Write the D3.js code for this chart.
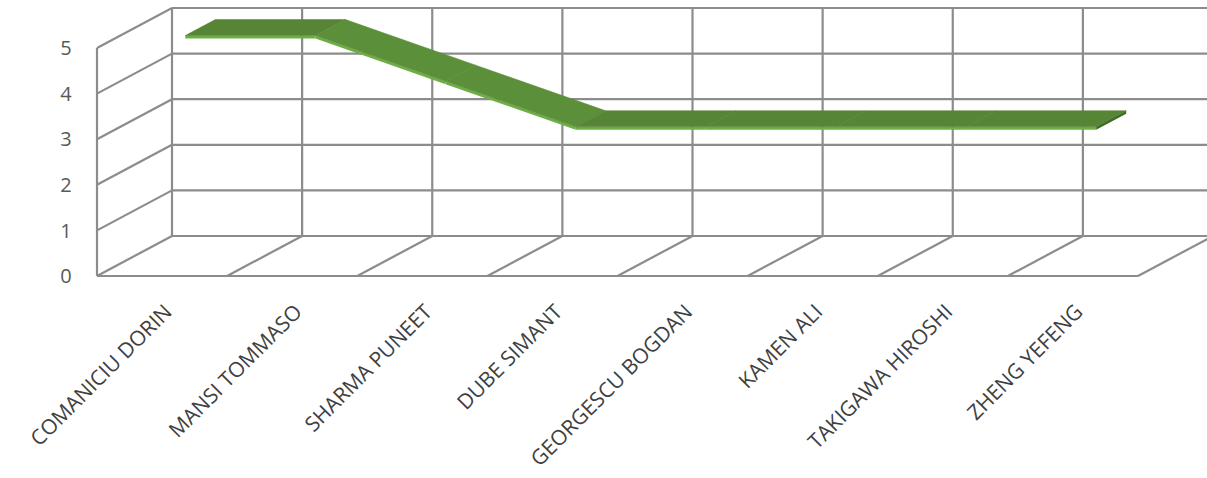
<!DOCTYPE html>
<html>
<head>
<meta charset="utf-8">
<script src="https://cdn.jsdelivr.net/npm/d3@7"></script>
<style>
  body { margin: 0; background: #fff; }
  svg { display: block; }
</style>
</head>
<body>
<svg id="chart" width="1207" height="478"></svg>
<script>
// chart data
var categories = ['COMANICIU DORIN', 'MANSI TOMMASO', 'SHARMA PUNEET', 'DUBE SIMANT',
                  'GEORGESCU BOGDAN', 'KAMEN ALI', 'TAKIGAWA HIROSHI', 'ZHENG YEFENG']
var values = [5, 5, 4, 3, 3, 3, 3, 3]
var yTicks = [0, 1, 2, 3, 4, 5]

var svg = d3.select('#chart')

// front plane scales, depth is added as an oblique offset
var xScale = d3.scaleLinear().domain([0, categories.length]).range([97, 1138])
var yScale = d3.scaleLinear().domain([0, 5]).range([276, 48])
var depth = { dx: 75, dy: -40 }

function proj(c, v, z) {
    return [xScale(c) + depth.dx * z, yScale(v) + depth.dy * z]
}

var gridColor = '#8c8c8c'
var g = svg.append('g')

function line3(a, b) {
    var p = proj(a[0], a[1], a[2]), q = proj(b[0], b[1], b[2])
    g.append('line')
     .attr('x1', p[0]).attr('y1', p[1])
     .attr('x2', q[0]).attr('y2', q[1])
     .attr('stroke', gridColor)
     .attr('stroke-width', 2.2)
}

var nCat = categories.length

// back wall: horizontal gridlines and vertical category lines
yTicks.forEach(function (t) {
    line3([0, t, 1], [nCat, t, 1])
})
d3.range(nCat + 1).forEach(function (i) {
    line3([i, 0, 1], [i, 5, 1])
})
// left side wall
yTicks.forEach(function (t) {
    line3([0, t, 0], [0, t, 1])
})
line3([0, 0, 0], [0, 5, 0])
// floor
d3.range(1, nCat + 1).forEach(function (i) {
    line3([i, 0, 0], [i, 0, 1])
})
line3([0, 0, 0], [nCat, 0, 0])

// y tick labels
g.selectAll('.ytick')
 .data(yTicks)
 .enter()
 .append('text')
 .attr('x', 66)
 .attr('y', function (d) { return yScale(d) })
 .attr('dy', '0.36em')
 .attr('text-anchor', 'middle')
 .attr('font-family', 'Open Sans, sans-serif')
 .attr('font-size', 20)
 .attr('fill', '#595959')
 .text(function (d) { return d })

// category labels, rotated
g.selectAll('.xlab')
 .data(categories)
 .enter()
 .append('text')
 .attr('transform', function (d, i) {
     var x = xScale(i + 0.5) + 6
     return 'translate(' + x + ',' + 308 + ') rotate(-45)'
 })
 .attr('text-anchor', 'end')
 .attr('dy', '0.35em')
 .attr('font-family', 'Open Sans, sans-serif')
 .attr('font-size', 21)
 .attr('fill', '#404040')
 .text(function (d) { return d })

// 3D ribbon line
var zf = 0.31, zb = 0.71, thick = 3
var ribbon = svg.append('g')
d3.range(nCat - 1).forEach(function (i) {
    var a = i + 0.5, b = i + 1.5
    var v0 = values[i], v1 = values[i + 1]
    var p1 = proj(a, v0, zf), p2 = proj(b, v1, zf), p3 = proj(b, v1, zb), p4 = proj(a, v0, zb)
    var flat = v0 === v1
    // front edge (thickness)
    ribbon.append('path')
          .attr('d', 'M' + p1 + 'L' + p2 + 'L' + [p2[0], p2[1] + thick] + 'L' + [p1[0], p1[1] + thick] + 'Z')
          .attr('fill', '#6fae45')
    ribbon.append('path')
          .attr('d', 'M' + p1 + 'L' + p2 + 'L' + p3 + 'L' + p4 + 'Z')
          .attr('fill', flat ? '#578536' : '#5c8f3a')
          .attr('stroke', flat ? '#578536' : '#5c8f3a')
          .attr('stroke-width', 0.6)
})
// right end cap
var e1 = proj(nCat - 0.5, values[nCat - 1], zf), e2 = proj(nCat - 0.5, values[nCat - 1], zb)
ribbon.append('path')
      .attr('d', 'M' + e1 + 'L' + e2 + 'L' + [e2[0], e2[1] + thick] + 'L' + [e1[0], e1[1] + thick] + 'Z')
      .attr('fill', '#3f6b27')
</script>
</body>
</html>
